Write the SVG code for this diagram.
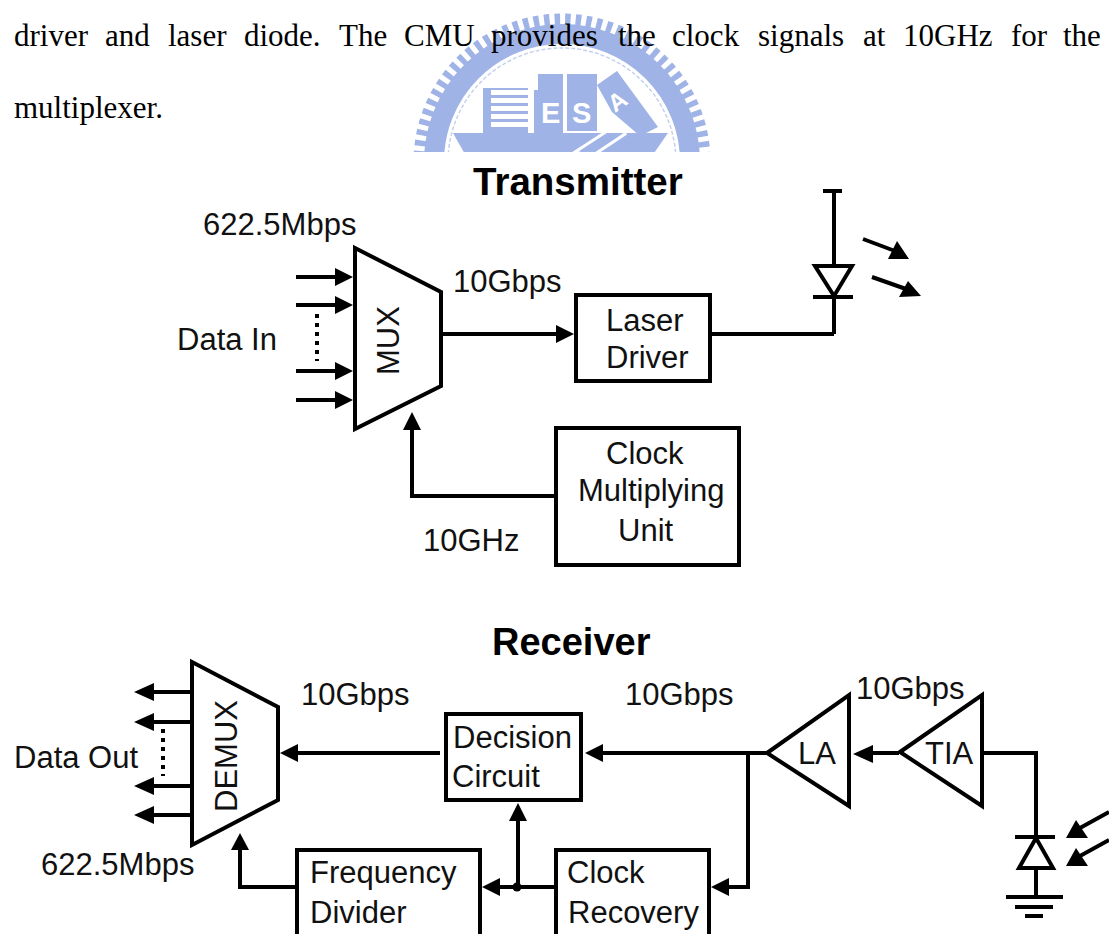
<svg xmlns="http://www.w3.org/2000/svg" width="1109" height="934" viewBox="0 0 1109 934">
<style>
.l{font-family:"Liberation Sans",Arial,sans-serif;font-size:31px;fill:#111}
.h{font-family:"Liberation Sans",Arial,sans-serif;font-size:38px;font-weight:bold;fill:#000}
.p{font-family:"Liberation Serif","Times New Roman",serif;font-size:31px;fill:#000}
.b{fill:#fff;stroke:#000;stroke-width:4}
.w{fill:none;stroke:#000;stroke-width:4}
.d{fill:none;stroke:#000;stroke-width:4;stroke-dasharray:4 5}
.a{fill:#000;stroke:none}
.lg{fill:#9fb3e6;stroke:none}
.lt{font-family:"Liberation Sans",Arial,sans-serif;font-weight:bold;fill:#fff}
</style>
<defs>
<clipPath id="logoClip"><rect x="400" y="0" width="320" height="152"/></clipPath>
</defs>
<rect width="1109" height="934" fill="#fff"/>
<g id="logo" clip-path="url(#logoClip)">
<circle cx="562" cy="162" r="128" fill="none" stroke="#9fb3e6" stroke-width="20"/>
<circle cx="562" cy="162" r="142" fill="none" stroke="#9fb3e6" stroke-width="13" stroke-dasharray="5.5 5"/>
<circle cx="562" cy="162" r="114" fill="none" stroke="#c5d1ef" stroke-width="1.5" stroke-dasharray="4 2"/>
<polygon class="lg" points="453,133 668,133 652,156 466,156"/>
<rect class="lg" x="483" y="88" width="45" height="46"/>
<g fill="#fff"><rect x="491" y="90" width="37" height="5"/><rect x="491" y="98" width="37" height="5"/><rect x="491" y="106" width="37" height="5"/><rect x="491" y="114" width="37" height="5"/><rect x="491" y="122" width="37" height="5"/></g>
<polygon class="lg" points="538,74 563,74 563,133 534,133 534,90 538,90"/>
<rect class="lg" x="567" y="74" width="30" height="57"/>
<polygon class="lg" points="597,85 617,71 658,127 640,136 612,112"/>
<polygon fill="none" stroke="#fff" stroke-width="3" points="575,152 618,124 625,134 592,156"/>
<text class="lt" x="541" y="123" font-size="29">E</text>
<text class="lt" x="572" y="123" font-size="29">S</text>
<text class="lt" transform="translate(615,113) rotate(-35)" font-size="24">A</text>
</g>
<g id="paragraph">
<text class="p" y="46"><tspan x="14">driver</tspan><tspan x="105">and</tspan><tspan x="168">laser</tspan><tspan x="244">diode.</tspan><tspan x="339">The</tspan><tspan x="404">CMU</tspan><tspan x="491">provides</tspan><tspan x="618">the</tspan><tspan x="672">clock</tspan><tspan x="758">signals</tspan><tspan x="863">at</tspan><tspan x="903">10GHz</tspan><tspan x="1011">for</tspan><tspan x="1063">the</tspan></text>
<text class="p" x="14" y="118">multiplexer.</text>
</g>
<text class="h" x="473" y="195" style="font-size:38.5px">Transmitter</text>
<text class="h" x="492" y="655">Receiver</text>
<g id="connectors">
<path class="w" d="M296 277H340M296 305H340M296 371H340M296 400H340"/>
<path class="a" d="M335 268L353 277L335 286ZM335 296L353 305L335 314ZM335 362L353 371L335 380ZM335 391L353 400L335 409Z"/>
<path class="d" d="M317 314V361"/>
<path class="w" d="M441 334H560"/><path class="a" d="M556 325L574 334L556 343Z"/>
<path class="w" d="M555 496H412V425"/><path class="a" d="M412 412L421 430H403Z"/>
<path class="w" d="M710 334H834"/>
<path class="w" d="M190 692H150M190 722H150M190 786H150M190 815H150"/>
<path class="a" d="M134 692L154 683V701ZM134 722L154 713V731ZM134 786L154 777V795ZM134 815L154 806V824Z"/>
<path class="d" d="M163 729V776"/>
<path class="w" d="M440 753H295"/><path class="a" d="M280 753L298 744V762Z"/>
<path class="w" d="M296 887H240V845"/><path class="a" d="M240 833L249 850H231Z"/>
<path class="w" d="M766 753H600M748 753V887H725"/>
<path class="a" d="M585 753L603 744V762Z"/><path class="a" d="M711 887L729 878V896Z"/>
<path class="w" d="M555 887H495M518 887V815"/>
<path class="a" d="M482 887L500 878V896Z"/><path class="a" d="M518 803L527 821H509Z"/>
<circle class="a" cx="517" cy="887" r="4.5"/>
<path class="w" d="M899 753H868"/><path class="a" d="M853 754L873 745V763Z"/>
<path class="w" d="M982 753H1036V838"/>
</g>
<g id="mux"><polygon class="b" points="355,248 441,292 441,386 355,429"/><text class="l" transform="translate(399,375) rotate(-90)">MUX</text></g>
<g id="laser-driver"><rect class="b" x="576" y="295" width="134" height="86"/><text class="l" x="606" y="331">Laser</text><text class="l" x="606" y="368">Driver</text></g>
<g id="cmu"><rect class="b" x="556" y="428" width="183" height="137"/><text class="l" x="606" y="464">Clock</text><text class="l" x="578" y="501">Multiplying</text><text class="l" x="618" y="541">Unit</text></g>
<g id="laser-diode">
<path class="w" d="M823 191H842M834 191V266M813 297H853M834 297V334"/>
<polygon class="w" points="815,266 852,266 834,296"/>
<path class="w" d="M863 239L895 251M872 277L906 289"/>
<path class="a" d="M909 259L888 259L897 241ZM921 296L899 297L908 281Z"/>
</g>
<g id="demux"><polygon class="b" points="192,662 278,707 278,800 192,845"/><text class="l" transform="translate(237,812) rotate(-90)">DEMUX</text></g>
<g id="decision"><rect class="b" x="446" y="714" width="135" height="86"/><text class="l" x="453" y="748">Decision</text><text class="l" x="452" y="787">Circuit</text></g>
<g id="divider"><rect class="b" x="297" y="850" width="183" height="100"/><text class="l" x="310" y="883">Frequency</text><text class="l" x="310" y="923">Divider</text></g>
<g id="recovery"><rect class="b" x="556" y="850" width="153" height="100"/><text class="l" x="567" y="883">Clock</text><text class="l" x="568" y="923">Recovery</text></g>
<g id="la"><polygon class="b" points="767,753 849,695 849,806"/><text class="l" x="798" y="764">LA</text></g>
<g id="tia"><polygon class="b" points="900,752 982,695 982,806"/><text class="l" x="925" y="764">TIA</text></g>
<g id="photodiode">
<path class="w" d="M1015 837H1055M1036 868V897M1006 897H1063M1015 907H1053M1025 916H1043"/>
<polygon class="w" points="1036,838 1019,868 1053,868"/>
<path class="w" d="M1109 812L1080 828M1109 840L1080 856"/>
<path class="a" d="M1066 838L1076 820L1088 838ZM1066 866L1076 848L1088 866Z"/>
</g>
<g id="labels">
<text class="l" x="203" y="235">622.5Mbps</text>
<text class="l" x="453" y="292">10Gbps</text>
<text class="l" x="177" y="350">Data In</text>
<text class="l" x="423" y="551">10GHz</text>
<text class="l" x="301" y="705">10Gbps</text>
<text class="l" x="625" y="705">10Gbps</text>
<text class="l" x="856" y="699">10Gbps</text>
<text class="l" x="14" y="768">Data Out</text>
<text class="l" x="41" y="875">622.5Mbps</text>
</g>
</svg>
